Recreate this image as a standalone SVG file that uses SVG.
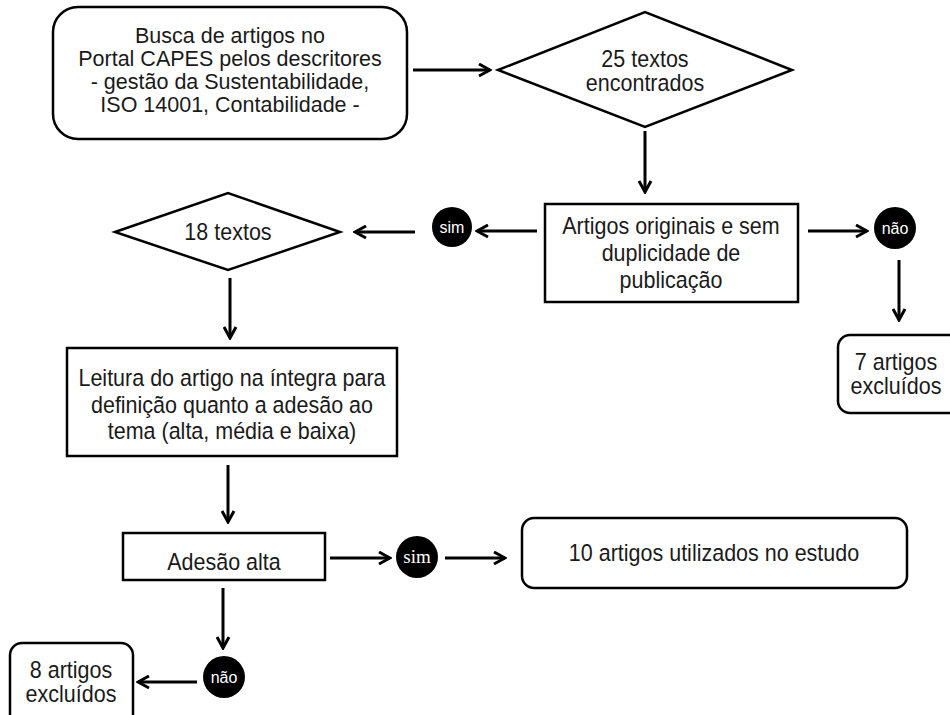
<svg xmlns="http://www.w3.org/2000/svg" width="950" height="715" viewBox="0 0 950 715">
<defs>
<marker id="ah" viewBox="0 0 15 15" refX="13" refY="7.5" markerWidth="15" markerHeight="15" markerUnits="userSpaceOnUse" orient="auto">
<path d="M2,1.5 L13,7.5 L2,13.5" fill="none" stroke="#000" stroke-width="3" stroke-linejoin="miter"/>
</marker>
</defs>
<style>
.box{fill:#fff;stroke:#000;stroke-width:2.5}
.t1{font-family:"Liberation Sans",Arial,sans-serif;font-size:21.5px;fill:#1a1a1a;text-anchor:middle}
.t{font-family:"Liberation Sans",Arial,sans-serif;font-size:21.5px;fill:#1a1a1a;text-anchor:middle;transform-box:fill-box;transform-origin:center;transform:scaleY(1.1)}
.c{fill:#000}
.ct{font-family:"Liberation Sans",Arial,sans-serif;font-size:16px;fill:#fff;text-anchor:middle}
.cs{font-family:"Liberation Serif","Times New Roman",serif;font-size:19px;fill:#fff;text-anchor:middle}
.e{stroke:#000;stroke-width:3;fill:none;marker-end:url(#ah)}
</style>
<rect width="950" height="715" fill="#fff"/>
<g id="busca">
<rect class="box" x="53" y="7" width="354" height="132" rx="25"/>
<text class="t1" x="230" y="43">Busca de artigos no</text>
<text class="t1" x="230" y="66">Portal CAPES pelos descritores</text>
<text class="t1" x="230" y="89">- gestão da Sustentabilidade,</text>
<text class="t1" x="230" y="112">ISO 14001, Contabilidade -</text>
</g>
<g id="d25">
<polygon class="box" points="498,70 645,12 792,70 645,127"/>
<text class="t" x="645" y="66">25 textos</text>
<text class="t" x="645" y="90">encontrados</text>
</g>
<g id="originais">
<rect class="box" x="545" y="204" width="253" height="98"/>
<text class="t" x="671" y="233">Artigos originais e sem</text>
<text class="t" x="671" y="260">duplicidade  de</text>
<text class="t" x="671" y="287">publicação</text>
</g>
<g id="nao1">
<circle class="c" cx="895" cy="228" r="21"/>
<text class="ct" x="895" y="234">não</text>
</g>
<g id="excl7">
<rect class="box" x="838" y="335" width="130" height="78" rx="12"/>
<text class="t" x="896" y="369">7 artigos</text>
<text class="t" x="896" y="393">excluídos</text>
</g>
<g id="sim1">
<circle class="c" cx="452" cy="227" r="20"/>
<text class="ct" x="452" y="233">sim</text>
</g>
<g id="d18">
<polygon class="box" points="115,232 228,193 340,232 228,270"/>
<text class="t" x="228" y="239">18 textos</text>
</g>
<g id="leitura">
<rect class="box" x="67" y="348" width="330" height="108"/>
<text class="t" x="232" y="385">Leitura do artigo na íntegra para</text>
<text class="t" x="232" y="412">definição quanto a adesão ao</text>
<text class="t" x="232" y="438">tema (alta, média e baixa)</text>
</g>
<g id="adesao">
<rect class="box" x="123" y="533" width="202" height="47"/>
<text class="t" x="224" y="569">Adesão alta</text>
</g>
<g id="sim2">
<circle class="c" cx="417" cy="557" r="21"/>
<text class="cs" x="417" y="563">sim</text>
</g>
<g id="utilizados">
<rect class="box" x="522" y="518" width="385" height="70" rx="12"/>
<text class="t" x="714" y="560">10 artigos utilizados no estudo</text>
</g>
<g id="nao2">
<circle class="c" cx="224" cy="677" r="21"/>
<text class="ct" x="224" y="683">não</text>
</g>
<g id="excl8">
<rect class="box" x="10" y="643" width="123" height="90" rx="12"/>
<text class="t" x="71" y="677">8 artigos</text>
<text class="t" x="71" y="701">excluídos</text>
</g>
<g id="connectors">
<line class="e" x1="413" y1="70" x2="490" y2="70"/>
<line class="e" x1="645" y1="131" x2="645" y2="192"/>
<line class="e" x1="808" y1="231" x2="867" y2="231"/>
<line class="e" x1="899" y1="260" x2="899" y2="320"/>
<line class="e" x1="537" y1="231" x2="477" y2="231"/>
<line class="e" x1="415" y1="232" x2="355" y2="232"/>
<line class="e" x1="230" y1="278" x2="230" y2="338"/>
<line class="e" x1="228" y1="465" x2="228" y2="522"/>
<line class="e" x1="330" y1="558" x2="390" y2="558"/>
<line class="e" x1="445" y1="558" x2="505" y2="558"/>
<line class="e" x1="223" y1="588" x2="223" y2="648"/>
<line class="e" x1="197" y1="682" x2="138" y2="682"/>
</g>
</svg>
